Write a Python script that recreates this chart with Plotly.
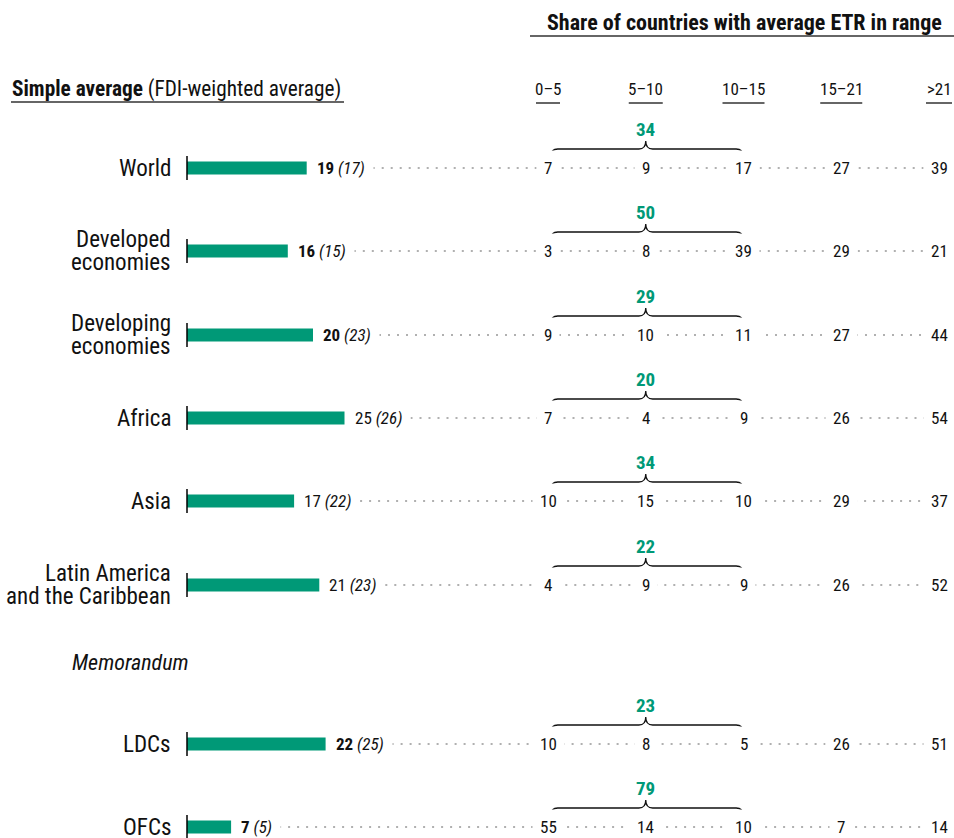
import plotly.graph_objects as go

W, H = 954, 838

# ---------------- data ----------------
regions = ["World", "Developed<br>economies", "Developing<br>economies", "Africa", "Asia",
           "Latin America<br>and the Caribbean", "LDCs", "OFCs"]
simple_avg = [19, 16, 20, 25, 17, 21, 22, 7]
fdi_weighted_avg = [17, 15, 23, 26, 22, 23, 25, 5]
bold_value = [True, True, True, False, False, False, True, True]
ranges = ["0–5", "5–10", "10–15", "15–21", ">21"]
share_0_5 = [7, 3, 9, 7, 10, 4, 10, 55]
share_5_10 = [9, 8, 10, 4, 15, 9, 8, 14]
share_10_15 = [17, 39, 11, 9, 10, 9, 5, 10]
share_15_21 = [27, 29, 27, 26, 29, 26, 26, 7]
share_gt21 = [39, 21, 44, 54, 37, 52, 51, 14]
share_0_15 = [34, 50, 29, 20, 34, 22, 23, 79]

# ---------------- layout constants ----------------
ROW_Y = [168, 251, 335, 418, 501, 585, 744, 827]   # row centres (px)
BAR_X0 = 187          # px where bar axis zero lies
PX_PER_UNIT = 6.3
COL_X0 = 548          # px of first range column
COL_STEP = 97.75
GREEN = "#009977"
DOT = "#b0b0b0"
FONT = "Roboto Condensed, Roboto, sans-serif"
TXT = "#111111"

def bar_px(v):
    return BAR_X0 + v * PX_PER_UNIT

fig = go.Figure()

fig.add_trace(go.Bar(
    x=simple_avg, y=ROW_Y, orientation="h", width=13,
    marker=dict(color=GREEN, line=dict(width=0)),
    hoverinfo="skip", showlegend=False, xaxis="x", yaxis="y",
))

shapes = []
annotations = []
series = [share_0_5, share_5_10, share_10_15, share_15_21, share_gt21]

for i, (lab, v, w, b, y) in enumerate(zip(regions, simple_avg, fdi_weighted_avg, bold_value, ROW_Y)):
    # dotted leader line
    shapes.append(dict(type="line", xref="paper", yref="y",
                       x0=(bar_px(v) + 12) / W, x1=(COL_X0 + 4 * COL_STEP) / W, y0=y, y1=y,
                       line=dict(color=DOT, width=2, dash="2px,7px"), layer="below"))
    # zero line at bar start
    shapes.append(dict(type="line", xref="x", yref="y", x0=0, x1=0, y0=y - 12, y1=y + 12,
                       line=dict(color="#000", width=1.5)))
    # region label (one annotation per line for tight leading)
    lines = lab.split("<br>")
    n = len(lines)
    for k, ln in enumerate(lines):
        annotations.append(dict(x=(BAR_X0 - 14) / W, xref="paper", y=y + (k - (n - 1) / 2) * 23,
                                yref="y", text=ln, xanchor="right", yanchor="middle",
                                align="right", showarrow=False,
                                font=dict(family=FONT, size=23, color=TXT)))
    # value label
    vt = f"<b>{v}</b>" if b else f"{v}"
    annotations.append(dict(x=v, xref="x", y=y, yref="y", text=f"{vt} <i>({w})</i>",
                            xanchor="left", yanchor="middle", showarrow=False, xshift=1,
                            bgcolor="white", borderpad=8,
                            font=dict(family=FONT, size=17, color=TXT)))
    # range numbers
    for j, s in enumerate(series):
        annotations.append(dict(x=j, xref="x2", y=y, yref="y", text=str(s[i]),
                                xanchor="center", yanchor="middle", showarrow=False,
                                bgcolor="white", borderpad=7,
                                font=dict(family=FONT, size=17, color=TXT)))
    # brace over 0-15
    L, R, M, d = 0.03, 1.995, 1.0, 0.07
    yb, yh, yp = y - 12, y - 19, y - 27
    path = (f"M {L},{yb} Q {L},{yh} {L+d},{yh} L {M-d},{yh} Q {M},{yh} {M},{yp} "
            f"Q {M},{yh} {M+d},{yh} L {R-d},{yh} Q {R},{yh} {R},{yb}")
    shapes.append(dict(type="path", xref="x2", yref="y", path=path,
                       line=dict(color="#111", width=1.3)))
    annotations.append(dict(x=M, xref="x2", y=y - 39, yref="y", text=f"<b>{share_0_15[i]}</b>",
                            xanchor="center", yanchor="middle", showarrow=False,
                            font=dict(family=FONT, size=19, color=GREEN)))

# headers
annotations.append(dict(x=944 / W, xref="paper", y=22, yref="y",
                        text="<b>Share of countries with average ETR in range</b>",
                        xanchor="right", yanchor="middle", showarrow=False,
                        font=dict(family=FONT, size=22, color=TXT)))
shapes.append(dict(type="line", xref="paper", yref="y", x0=530 / W, x1=1, y0=36, y1=36,
                   line=dict(color="#333", width=1.5)))
annotations.append(dict(x=10 / W, xref="paper", y=89, yref="y",
                        text="<b>Simple average</b> (FDI-weighted average)",
                        xanchor="left", yanchor="middle", showarrow=False,
                        font=dict(family=FONT, size=21.3, color=TXT)))
shapes.append(dict(type="line", xref="paper", yref="y", x0=11 / W, x1=344 / W, y0=102, y1=102,
                   line=dict(color="#333", width=1.5)))
hdr_half = [12, 17, 21, 21, 13]
for j, r in enumerate(ranges):
    annotations.append(dict(x=j, xref="x2", y=89, yref="y", text=r,
                            xanchor="center", yanchor="middle", showarrow=False,
                            font=dict(family=FONT, size=17, color=TXT)))
    cx = COL_X0 + j * COL_STEP
    shapes.append(dict(type="line", xref="paper", yref="y",
                       x0=(cx - hdr_half[j]) / W, x1=(cx + hdr_half[j]) / W, y0=103, y1=103,
                       line=dict(color="#666", width=2)))
annotations.append(dict(x=70 / W, xref="paper", y=662, yref="y", text="<i>Memorandum</i>",
                        xanchor="left", yanchor="middle", showarrow=False,
                        font=dict(family=FONT, size=22, color=TXT)))

fig.update_layout(
    width=W, height=H, margin=dict(l=0, r=0, t=0, b=0),
    paper_bgcolor="white", plot_bgcolor="white",
    xaxis=dict(range=[-BAR_X0 / PX_PER_UNIT, (W - BAR_X0) / PX_PER_UNIT], domain=[0, 1],
               visible=False, fixedrange=True),
    xaxis2=dict(range=[-COL_X0 / COL_STEP, (W - COL_X0) / COL_STEP], domain=[0, 1],
                overlaying="x", visible=False, fixedrange=True),
    yaxis=dict(range=[H, 0], domain=[0, 1], visible=False, fixedrange=True),
    shapes=shapes, annotations=annotations, showlegend=False,
)

fig.write_html("out.html", config={"displayModeBar": False},
               post_script="document.body.style.margin='0';document.body.style.overflow='hidden';")
